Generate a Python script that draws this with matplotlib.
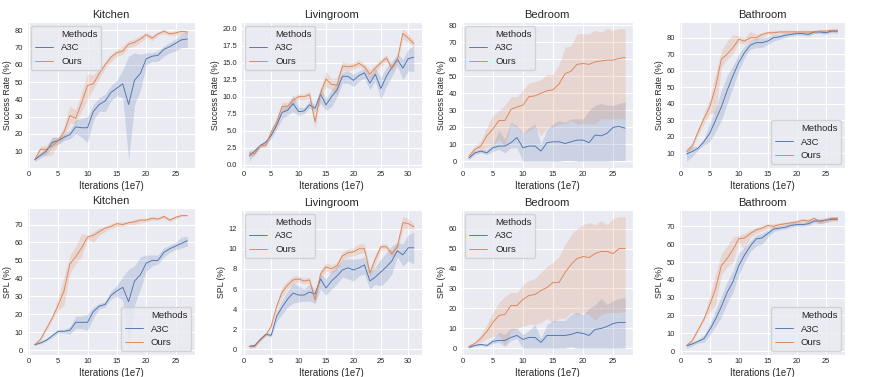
import matplotlib
matplotlib.use("Agg")
import numpy as np
import seaborn as sns
from matplotlib import pyplot as plt
from matplotlib.lines import Line2D
from matplotlib.ticker import MultipleLocator

# ---- Success rate, Kitchen
kit_sr_a3c = [5, 7.5, 10, 15, 16, 18, 19.5, 24, 23.5, 23.5, 33, 37, 39, 44, 46.5, 49, 37, 51, 55, 63.5, 65, 65.5, 69, 70.5, 72.5, 74.5, 75]
kit_sr_a3c_lo = [4, 6, 8, 12, 14, 16, 17, 20, 18, 15, 28, 33, 33, 39, 42, 41, 5, 37, 45, 60, 62, 62, 65, 67, 68, 70, 70]
kit_sr_a3c_hi = [6, 9, 12, 18, 18, 20, 22, 28, 29, 30, 37, 41, 43, 48, 51, 57, 65, 67, 66, 67, 67, 68, 71, 73, 75, 78, 79]
kit_sr_ours = [5, 11, 11, 13, 16, 21, 30.5, 29, 38, 48, 49, 55, 60, 64.5, 67, 68, 72, 73, 75, 77.5, 75.5, 78, 79.5, 78, 78.5, 79.5, 79]
kit_sr_ours_lo = [4, 8, 7, 8, 14, 17, 26, 26, 33, 40, 46, 52, 58, 62, 65, 66, 70, 71, 73, 76, 74, 77, 78, 77, 77, 78, 78]
kit_sr_ours_hi = [6, 13, 13, 18, 18, 24, 36, 34, 44, 55, 54, 58, 62, 66, 69, 71, 74, 75, 77, 79, 77, 79, 81, 79, 80, 80, 80]

# ---- Success rate, Livingroom
liv_sr_a3c = [1.3, 2.0, 2.8, 3.3, 4.3, 5.8, 7.7, 8.0, 9.0, 7.8, 7.9, 8.8, 8.3, 10.4, 8.8, 10.0, 11.0, 13.0, 13.0, 12.4, 13.1, 13.5, 12.0, 13.3, 11.2, 13.0, 14.3, 15.5, 14.2, 15.6, 15.8]
liv_sr_a3c_lo = [0.5, 1.6, 2.5, 3.0, 3.8, 5.2, 6.8, 7.3, 7.8, 7.2, 7.5, 8.3, 7.8, 9.0, 8.0, 8.5, 10.0, 12.0, 12.0, 11.5, 12.3, 12.7, 11.0, 12.3, 9.6, 11.5, 13.0, 14.5, 12.5, 13.8, 13.7]
liv_sr_a3c_hi = [2.0, 2.4, 3.1, 3.6, 4.8, 6.4, 8.5, 8.7, 10.3, 8.5, 8.4, 9.4, 8.8, 11.4, 9.8, 11.0, 12.0, 13.6, 13.8, 13.3, 13.8, 14.2, 13.0, 14.2, 12.8, 14.3, 15.2, 16.3, 15.5, 17.0, 17.5]
liv_sr_ours = [1.7, 1.6, 2.8, 2.8, 4.8, 6.3, 8.6, 8.6, 9.5, 10.0, 10.0, 10.3, 6.3, 10.5, 12.6, 11.8, 11.7, 14.5, 14.4, 14.5, 14.9, 14.4, 13.3, 14.2, 15.0, 15.7, 14.2, 15.4, 19.3, 18.6, 17.8]
liv_sr_ours_lo = [1.3, 1.3, 2.5, 2.5, 4.3, 5.8, 8.0, 8.0, 9.0, 9.6, 9.6, 9.8, 5.3, 9.8, 11.5, 11.0, 10.3, 13.8, 13.8, 14.0, 14.4, 14.0, 12.6, 13.6, 14.5, 15.2, 13.8, 15.0, 18.5, 18.0, 17.3]
liv_sr_ours_hi = [2.0, 1.9, 3.1, 3.1, 5.3, 6.8, 9.2, 9.2, 10.0, 10.4, 10.4, 10.8, 7.2, 11.2, 13.7, 12.6, 12.8, 15.2, 15.0, 15.0, 15.4, 14.8, 14.0, 14.8, 15.5, 16.2, 14.6, 15.8, 20.0, 19.2, 18.3]

# ---- Success rate, Bedroom
bed_sr_a3c = [2, 5, 6, 5, 8, 9, 9, 11, 14, 8, 9, 9, 6, 11, 11.5, 11.5, 10.5, 11.5, 12.5, 12.5, 11, 15.5, 15, 16.5, 20, 20.5, 19.5]
bed_sr_a3c_lo = [1, 4, 5, 4, 6, 7, 5, 8, 8, 0, 0, 0, 0, 0, 0, 0, 0.5, 0.5, 0, 0, 0, 0, 0, 0, 0.5, 0.5, 0.5]
bed_sr_a3c_hi = [3, 6, 7, 7, 10, 18, 13, 23, 21, 16, 20, 22, 10, 19, 22, 24, 23, 25, 25, 25, 30, 33, 34, 33, 33, 34, 35]
bed_sr_ours = [3, 7, 9, 15, 19, 24, 24, 30.5, 32, 33, 38, 38.5, 40, 41.5, 42, 45.5, 51.5, 53, 57, 57.5, 57, 58.5, 59, 59.5, 59.5, 60.5, 61]
bed_sr_ours_lo = [1.5, 5, 6, 8, 10, 13, 9, 22, 20, 16, 18, 20, 15, 20, 20, 22, 22, 24, 22, 22, 22, 22, 25, 25, 25, 25, 25]
bed_sr_ours_hi = [4, 9, 12, 20, 27, 30, 33, 38, 38, 42, 46, 47, 48, 51, 51, 57, 67, 68, 75, 75, 75, 77, 76, 78, 77, 78, 78]

# ---- Success rate, Bathroom
bat_sr_a3c = [9.5, 11, 13, 17, 22, 30, 38, 48, 57, 65, 71, 75.5, 77, 77, 78, 80, 80.5, 81.5, 82, 82.5, 82.5, 82, 83.5, 83.5, 83, 84, 84]
bat_sr_a3c_lo = [5, 8, 12, 15, 17, 23, 30, 40, 50, 60, 68, 73, 74, 74, 76, 78, 79, 80, 81, 81.5, 81.5, 81, 82.5, 82.5, 82, 83, 82.5]
bat_sr_a3c_hi = [12, 14, 14, 19, 28, 37, 48, 57, 63, 70, 75, 78, 80, 80, 80.5, 82, 82, 83, 83, 83.5, 83.5, 83.5, 84.5, 84.5, 84, 85, 85]
bat_sr_ours = [11, 14.5, 23, 31, 38, 50, 67, 70, 74, 79, 78, 80, 80, 82, 83, 83, 83.5, 83.5, 83.5, 83.5, 83.5, 83.5, 83.5, 84, 84, 84.5, 84.5]
bat_sr_ours_lo = [9, 13, 21, 28, 34, 34, 62, 67, 70, 77, 76, 78, 79, 80, 82, 82, 82.5, 82.5, 82.5, 82.5, 82.5, 82.5, 82.5, 83, 83, 83.5, 83.5]
bat_sr_ours_hi = [13, 16, 25, 34, 43, 58, 72, 78, 82, 81, 80, 84, 82, 83, 84, 84.5, 84.5, 84.5, 84.5, 84.5, 84.5, 84.5, 84.5, 85, 85, 85.5, 85.5]

# ---- SPL, Kitchen
kit_spl_a3c = [3, 4, 5.5, 8, 10.5, 10.5, 11, 15.5, 15.5, 15.5, 21.5, 24.5, 25.5, 30.5, 33, 35, 27, 38.5, 42, 48.5, 50, 50, 54.5, 56.5, 58, 59.5, 61]
kit_spl_a3c_lo = [2.5, 3.5, 5, 7, 9.5, 9.5, 9, 12, 12, 11, 18, 23, 24, 28.5, 30, 28, 1, 25, 34, 44, 47, 48, 52, 54.5, 56, 57, 58]
kit_spl_a3c_hi = [3.5, 5, 6.5, 9, 11.5, 11.5, 13, 19, 19, 20, 24, 26, 27, 33, 36, 41, 45, 47, 52, 53, 53, 53, 57, 58.5, 60, 63, 63.5]
kit_spl_ours = [3, 6, 12, 18, 25, 33, 48, 52, 57, 63, 64, 66, 68, 69, 70.5, 70, 71, 71.5, 72.5, 72.5, 73.5, 73, 74.5, 72.5, 74, 75, 75]
kit_spl_ours_lo = [2.5, 5, 11, 17, 22, 25, 43, 48, 52, 62, 60, 64, 66, 68, 69, 69, 70, 70, 71, 71.5, 72.5, 72.5, 73.5, 71.5, 73, 74.5, 74.5]
kit_spl_ours_hi = [3.5, 7, 13, 19, 29, 41, 53, 58, 65, 64, 66, 68, 69, 70.5, 71.5, 71.5, 72, 73, 73.5, 73.5, 74.5, 74, 75.5, 73.5, 75, 75.5, 75.5]

# ---- SPL, Livingroom
liv_spl_a3c = [0.3, 0.4, 1.0, 1.5, 1.4, 3.3, 4.2, 5.0, 5.6, 5.4, 5.4, 5.7, 5.5, 7.0, 6.1, 6.8, 7.3, 7.9, 8.1, 7.9, 8.1, 8.4, 6.8, 7.2, 7.7, 8.2, 8.8, 9.8, 9.4, 10.1, 10.1]
liv_spl_a3c_lo = [0.1, 0.2, 0.9, 1.4, 1.2, 2.8, 3.5, 4.2, 4.6, 4.7, 4.8, 4.8, 4.6, 6.0, 5.4, 6.0, 6.5, 7.2, 7.0, 6.8, 7.3, 7.5, 6.0, 6.5, 6.3, 6.8, 7.5, 9.2, 8.3, 8.8, 8.5]
liv_spl_a3c_hi = [0.5, 0.5, 1.1, 1.7, 1.6, 3.8, 4.9, 5.8, 6.6, 6.3, 6.0, 6.5, 6.0, 7.5, 7.0, 7.8, 8.3, 8.9, 9.0, 9.0, 9.0, 9.2, 7.8, 8.2, 9.0, 9.6, 10.3, 10.6, 10.5, 11.4, 11.7]
liv_spl_ours = [0.3, 0.3, 0.9, 1.4, 2.3, 4.3, 5.7, 6.4, 6.9, 7.0, 6.8, 6.9, 4.9, 7.5, 8.2, 8.0, 8.3, 9.3, 9.6, 9.7, 10.0, 10.0, 7.6, 9.0, 10.2, 10.2, 9.5, 10.2, 12.6, 12.5, 12.2]
liv_spl_ours_lo = [0.2, 0.2, 0.8, 1.3, 2.1, 4.0, 5.2, 6.0, 6.5, 6.7, 6.5, 6.6, 4.5, 7.0, 7.8, 7.6, 7.9, 8.9, 9.2, 9.3, 9.5, 9.6, 7.2, 8.5, 9.9, 9.9, 9.2, 9.8, 11.9, 12.0, 11.9]
liv_spl_ours_hi = [0.4, 0.4, 1.0, 1.5, 2.5, 4.6, 6.2, 6.8, 7.3, 7.3, 7.1, 7.2, 5.3, 8.0, 8.6, 8.4, 8.7, 9.7, 10.0, 10.1, 10.5, 10.5, 8.0, 9.5, 10.5, 10.5, 9.8, 10.7, 13.2, 13.0, 12.5]

# ---- SPL, Bedroom
bed_spl_a3c = [0.5, 1.5, 2, 1.5, 3.5, 4, 4, 5.5, 6.5, 4.5, 5.5, 5.5, 3, 6.5, 6.5, 6.5, 6.5, 7, 8, 7.5, 6.5, 9.5, 10, 11, 12.5, 13, 13]
bed_spl_a3c_lo = [0.2, 1, 1.5, 1, 2.5, 3, 1, 4, 5, 0, 0, 0, 0, 0, 0, 0, 0, 1, 0, 0, 0, 0, 0, 0, 0, 0, 0]
bed_spl_a3c_hi = [0.8, 2, 2.5, 2, 5, 8, 7, 10, 10, 7, 9, 12, 5, 12, 14, 14, 14, 17, 18, 17, 20, 22, 25, 22, 24, 25, 25.5]
bed_spl_ours = [1, 2.5, 5, 8.5, 13, 16.5, 17, 21.5, 21.5, 24.5, 26.5, 27, 29, 30.5, 33, 33, 38, 42, 45, 46, 45.5, 47.5, 48.5, 48.5, 47.5, 50, 50]
bed_spl_ours_lo = [0.5, 2, 3, 5, 6, 7, 1.5, 9, 10, 11, 12, 12, 13, 15, 13, 15, 15, 18, 17, 18, 17, 14, 17, 18, 18, 18, 18.5]
bed_spl_ours_hi = [1.5, 3, 7, 12, 18, 23, 26, 28, 28, 32, 34, 35, 38, 41, 43, 46, 52, 57, 60, 62, 63, 62, 64, 62, 65, 66, 66]

# ---- SPL, Bathroom
bat_spl_a3c = [3, 4, 5.5, 7, 12, 18, 25, 33, 39, 48, 54, 59, 63, 63.5, 66, 68.5, 69, 69.5, 70.5, 71, 71, 71.5, 73, 73, 73.5, 74, 74]
bat_spl_a3c_lo = [1.5, 3, 4.5, 5, 9, 14, 19, 27, 33, 43, 50, 56, 59, 60, 64, 67, 68, 68.5, 69.5, 70, 70, 70.5, 72, 71.5, 72, 73, 73]
bat_spl_a3c_hi = [4.5, 5, 6.5, 9, 15, 23, 31, 39, 45, 55, 58, 62, 65, 66, 68, 70, 70.5, 71, 72, 72.5, 72.5, 73, 74, 74.5, 75, 75.5, 75.5]
bat_spl_ours = [3, 6, 12, 18, 26, 35, 48, 52, 57, 63, 63.5, 66, 68, 69, 70.5, 70, 71, 71.5, 72, 72.5, 73.5, 73, 74.5, 72.5, 73.5, 74.5, 74.5]
bat_spl_ours_lo = [2.5, 5, 11, 17, 22, 26, 43, 47, 50, 61, 57, 64, 66, 67.5, 69, 69, 70, 70.5, 71, 71.5, 72.5, 72, 73.5, 71.5, 72.5, 73.5, 73.5]
bat_spl_ours_hi = [3.5, 7, 13, 19, 31, 43, 55, 59, 64, 65, 66, 68, 69.5, 70.5, 71.5, 71.5, 72, 72.5, 73, 73.5, 74.5, 74, 75.5, 73.5, 74.5, 75.5, 75.5]

sns.set_style("darkgrid")
plt.rcParams['font.family'] = ['Liberation Sans', 'DejaVu Sans']

W, H = 872, 377
fig = plt.figure(figsize=(W / 100, H / 100), dpi=100)

BLUE = '#4c72b0'
ORANGE = '#dd8452'


def panel(box, title, ylabel, a3c, ours, ystep, legend_loc):
    # box in pixels: left, top, right, bottom
    l, t, r, b = box
    ax = fig.add_axes([l / W, 1 - b / H, (r - l) / W, (b - t) / H])
    x = np.arange(1, len(a3c[0]) + 1)
    for (m, lo, hi), c in ((a3c, BLUE), (ours, ORANGE)):
        ax.fill_between(x, lo, hi, color=c, alpha=0.2, lw=0)
        ax.plot(x, m, color=c, lw=0.65)
    ax.set_title(title, fontsize=8, pad=3)
    ax.set_xlabel('Iterations (1e7)', fontsize=6.9, labelpad=1.5)
    ax.set_ylabel(ylabel, fontsize=6.3, labelpad=1.5)
    ax.xaxis.set_major_locator(MultipleLocator(5))
    ax.yaxis.set_major_locator(MultipleLocator(ystep))
    ax.tick_params(labelsize=5.4, length=0)
    ax.tick_params(axis='y', pad=3)
    ax.tick_params(axis='x', pad=2.5)
    if ystep == 2.5:
        ax.yaxis.set_major_formatter('{x:.1f}')
    handles = [Line2D([], [], alpha=0),
               Line2D([], [], color=BLUE, lw=0.65),
               Line2D([], [], color=ORANGE, lw=0.65)]
    ax.legend(handles, ['Methods', 'A3C', 'Ours'], loc=legend_loc,
              fontsize=6.8, borderaxespad=0.4, handlelength=2.0)
    return ax


panel((27, 22, 195, 168), 'Kitchen', 'Success Rate (%)',
      (kit_sr_a3c, kit_sr_a3c_lo, kit_sr_a3c_hi), (kit_sr_ours, kit_sr_ours_lo, kit_sr_ours_hi), 10, 'upper left')
panel((241, 22, 422, 168), 'Livingroom', 'Success Rate (%)',
      (liv_sr_a3c, liv_sr_a3c_lo, liv_sr_a3c_hi), (liv_sr_ours, liv_sr_ours_lo, liv_sr_ours_hi), 2.5, 'upper left')
panel((461, 22, 633, 168), 'Bedroom', 'Success Rate (%)',
      (bed_sr_a3c, bed_sr_a3c_lo, bed_sr_a3c_hi), (bed_sr_ours, bed_sr_ours_lo, bed_sr_ours_hi), 10, 'upper left')
panel((679, 22, 845, 168), 'Bathroom', 'Success Rate (%)',
      (bat_sr_a3c, bat_sr_a3c_lo, bat_sr_a3c_hi), (bat_sr_ours, bat_sr_ours_lo, bat_sr_ours_hi), 10, 'lower right')

panel((27, 208, 195, 355), 'Kitchen', 'SPL (%)',
      (kit_spl_a3c, kit_spl_a3c_lo, kit_spl_a3c_hi), (kit_spl_ours, kit_spl_ours_lo, kit_spl_ours_hi), 10, 'lower right')
panel((241, 210, 422, 355), 'Livingroom', 'SPL (%)',
      (liv_spl_a3c, liv_spl_a3c_lo, liv_spl_a3c_hi), (liv_spl_ours, liv_spl_ours_lo, liv_spl_ours_hi), 2, 'upper left')
panel((461, 210, 633, 355), 'Bedroom', 'SPL (%)',
      (bed_spl_a3c, bed_spl_a3c_lo, bed_spl_a3c_hi), (bed_spl_ours, bed_spl_ours_lo, bed_spl_ours_hi), 10, 'upper left')
panel((679, 210, 845, 355), 'Bathroom', 'SPL (%)',
      (bat_spl_a3c, bat_spl_a3c_lo, bat_spl_a3c_hi), (bat_spl_ours, bat_spl_ours_lo, bat_spl_ours_hi), 10, 'lower right')

fig.savefig('out.png', dpi=100)
